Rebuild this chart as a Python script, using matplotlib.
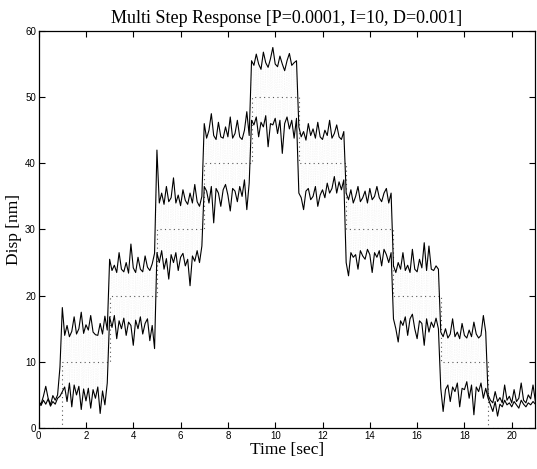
import numpy as np
import matplotlib
matplotlib.use("Agg")
import matplotlib.pyplot as plt

# ---- data ----
dt = 0.1
ref_t = [0, 1, 3, 5, 7, 9, 11, 13, 15, 17, 19, 21]
ref_y = [0, 10, 20, 30, 40, 50, 40, 30, 20, 10, 0, 0]

upper_0_1 = [4.0, 3.6, 4.8, 6.3, 4.5, 3.5, 4.9, 4.2, 5.0, 9.2]
lower_0_1 = [3.8, 3.4, 4.2, 3.6, 4.4, 3.3, 4.0, 3.6, 4.5, 4.8]
upper_1_3 = [18.2, 14.0, 15.5, 13.8, 14.6, 16.8, 14.2, 15.0, 17.5, 14.3, 15.6, 14.8, 17.0, 14.5, 14.1, 14.0, 15.8, 14.2, 16.9, 14.8]
lower_1_3 = [5.5, 6.2, 4.0, 6.8, 3.2, 6.5, 5.0, 6.3, 2.8, 5.9, 4.1, 6.0, 3.0, 5.8, 4.5, 6.2, 2.2, 5.6, 3.5, 6.8]
upper_3_5 = [25.5, 23.8, 24.6, 23.5, 26.5, 24.0, 23.6, 25.0, 23.4, 27.8, 24.2, 23.5, 25.8, 24.0, 23.6, 26.0, 24.3, 23.8, 24.8, 26.4]
lower_3_5 = [16.8, 15.2, 17.0, 13.5, 16.2, 15.0, 16.6, 14.0, 16.0, 15.5, 12.5, 16.3, 15.0, 16.8, 14.2, 15.8, 16.5, 13.2, 15.5, 12.0]
upper_5_7 = [42.0, 34.0, 35.5, 33.8, 36.5, 34.2, 34.8, 37.8, 34.0, 35.2, 33.6, 36.0, 34.4, 33.8, 35.5, 34.0, 36.8, 34.2, 33.5, 35.0]
lower_5_7 = [26.5, 25.0, 26.8, 24.0, 25.6, 22.5, 26.2, 25.0, 26.5, 23.8, 25.8, 26.4, 24.5, 25.5, 21.5, 26.0, 25.2, 26.8, 25.0, 27.5]
upper_7_9 = [46.0, 43.8, 45.0, 47.5, 44.2, 43.6, 46.2, 44.0, 43.8, 45.5, 44.0, 47.0, 43.8, 44.5, 46.5, 44.0, 43.6, 45.0, 47.8, 44.2]
lower_7_9 = [36.5, 35.8, 34.0, 36.5, 31.0, 36.2, 35.5, 33.5, 36.0, 36.8, 35.2, 32.8, 36.2, 35.8, 34.2, 36.5, 35.0, 37.5, 33.0, 37.0]
upper_9_11 = [55.5, 54.8, 56.5, 55.0, 54.2, 56.8, 55.2, 54.5, 55.8, 57.5, 55.0, 54.6, 56.2, 55.0, 54.0, 55.5, 56.6, 54.8, 55.2, 55.5]
lower_9_11 = [46.5, 45.8, 47.0, 44.0, 46.2, 45.5, 47.2, 42.5, 46.0, 45.8, 46.8, 44.5, 46.5, 41.5, 46.0, 47.0, 45.2, 46.5, 43.8, 46.8]
upper_11_13 = [45.5, 44.0, 44.8, 43.5, 46.0, 44.2, 45.2, 43.8, 46.2, 44.0, 43.6, 45.0, 44.2, 46.5, 43.8, 44.5, 45.8, 44.0, 43.6, 44.8]
lower_11_13 = [35.5, 34.8, 33.0, 35.8, 36.2, 34.5, 35.0, 36.5, 33.5, 35.2, 36.0, 34.8, 37.0, 35.5, 36.2, 38.0, 35.5, 37.2, 36.0, 37.5]
upper_13_15 = [35.5, 34.5, 36.0, 34.0, 35.0, 36.5, 34.2, 34.8, 35.8, 34.0, 36.2, 34.5, 35.0, 36.5, 34.8, 34.2, 35.5, 36.2, 34.0, 35.5]
lower_13_15 = [25.0, 23.0, 26.5, 25.8, 26.2, 24.0, 26.8, 26.0, 25.5, 27.0, 26.2, 23.5, 26.5, 25.8, 26.8, 24.5, 27.0, 26.2, 25.0, 26.5]
upper_15_17 = [24.5, 23.5, 25.0, 24.0, 26.5, 23.8, 24.6, 23.5, 27.0, 24.0, 23.6, 25.5, 24.2, 28.0, 23.8, 27.5, 24.0, 23.8, 24.5, 24.0]
lower_15_17 = [16.5, 15.0, 13.0, 16.2, 15.5, 16.8, 14.0, 16.5, 17.2, 15.0, 13.5, 16.2, 15.8, 12.5, 16.5, 14.5, 16.0, 15.2, 16.6, 15.0]
upper_17_19 = [14.5, 13.8, 15.0, 13.6, 14.2, 16.5, 13.8, 14.5, 13.5, 15.8, 14.0, 13.6, 14.8, 13.8, 16.0, 14.2, 13.6, 14.0, 17.0, 14.5]
lower_17_19 = [6.0, 2.5, 5.8, 6.5, 4.0, 6.2, 5.5, 6.8, 3.2, 6.0, 5.8, 7.0, 4.5, 6.5, 2.0, 6.2, 5.5, 6.8, 4.5, 6.0]
upper_19_21 = [5.0, 4.2, 3.8, 5.5, 4.0, 4.6, 3.8, 6.5, 4.2, 4.8, 3.8, 5.8, 4.0, 4.5, 6.8, 4.2, 3.8, 5.0, 4.4, 6.5, 4.0]
lower_19_21 = [4.5, 3.5, 2.5, 4.0, 1.8, 3.6, 3.2, 4.2, 3.5, 3.8, 3.2, 4.0, 3.5, 3.0, 4.2, 3.6, 3.2, 3.8, 3.5, 4.0, 3.6]

x_ticks = [0, 2, 4, 6, 8, 10, 12, 14, 16, 18, 20]
y_ticks = [0, 10, 20, 30, 40, 50, 60]
title = "Multi Step Response [P=0.0001, I=10, D=0.001]"
xlabel = "Time [sec]"
ylabel = "Disp [nm]"

upper = np.array(upper_0_1 + upper_1_3 + upper_3_5 + upper_5_7 + upper_7_9 + upper_9_11
                 + upper_11_13 + upper_13_15 + upper_15_17 + upper_17_19 + upper_19_21)
lower = np.array(lower_0_1 + lower_1_3 + lower_3_5 + lower_5_7 + lower_7_9 + lower_9_11
                 + lower_11_13 + lower_13_15 + lower_15_17 + lower_17_19 + lower_19_21)
t = np.arange(len(upper)) * dt

# ---- figure ----
fig = plt.figure(figsize=(5.37, 4.69), dpi=100)
ax = fig.add_axes([0.072, 0.0874, 0.925, 0.8466])

# fast oscillation between the two envelopes (very faint, as in the scan)
t_osc = np.repeat(t, 2)[1:]
y_osc = np.column_stack([upper, lower]).ravel()[1:]
ax.plot(t_osc, y_osc, color="0.88", lw=0.3, linestyle=(0, (1, 3)), zorder=1)

# reference staircase
ax.plot(ref_t, ref_y, drawstyle="steps-post", color="0.35", lw=0.8,
        linestyle=(0, (1, 3)), zorder=2)

# envelopes
ax.plot(t, upper, color="black", lw=0.8, zorder=3)
ax.plot(t, lower, color="black", lw=0.8, zorder=3)

ax.set_xlim(0, 21)
ax.set_ylim(0, 60)
ax.set_xticks(x_ticks)
ax.set_yticks(y_ticks)
ax.tick_params(direction="in", top=True, right=True, length=4, width=0.8,
               labelsize=7, pad=2)
for lab in ax.get_xticklabels() + ax.get_yticklabels():
    lab.set_family("Liberation Sans")
for s in ax.spines.values():
    s.set_linewidth(0.9)

ax.set_title(title, family="Liberation Serif", fontsize=13, pad=6)
ax.set_xlabel(xlabel, family="Liberation Serif", fontsize=12.5, labelpad=1)
ax.set_ylabel(ylabel, family="Liberation Serif", fontsize=12.5, labelpad=2)

fig.savefig("out.png", dpi=100)
